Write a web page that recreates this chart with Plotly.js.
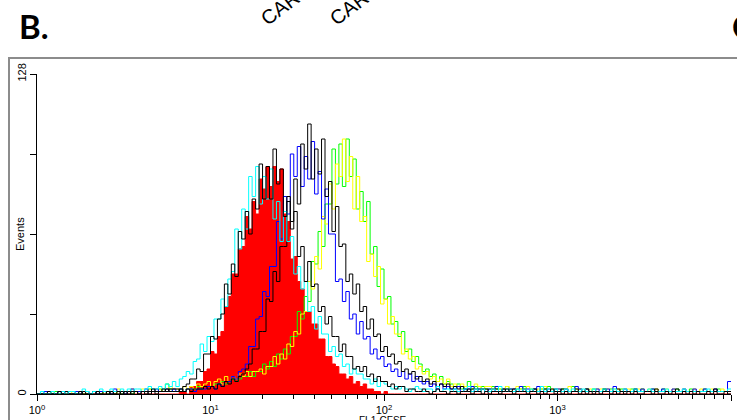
<!DOCTYPE html>
<html><head><meta charset="utf-8">
<script src="https://cdn.plot.ly/plotly-3.0.1.min.js"></script>
<style>html,body{margin:0;padding:0;background:#fff}</style>
</head><body><div id="chart" style="width:737px;height:420px"></div>
<script>
// Channel axis: 50 channels per decade, 4 decades (10^0 .. 10^4)
const binsPerDecade = 50;
const decadeValues = [1, 10, 100, 1000, 10000];
const decadeLabels = ['10<sup>0</sup>', '10<sup>1</sup>', '10<sup>2</sup>', '10<sup>3</sup>', '10<sup>4</sup>'];
const yLabelValues = [0, 128];
const yLabels = ['0', '128'];
const yMinorValues = [32, 64, 96];

// Event counts per channel
const redFilled = [
0,0,0,0,0,0,0,0,0,0, 0,0,0,0,0,0,0,0,0,0, 0,0,0,0,0,0,0,0,0,0, 0,0,0,0,0,0,0,0,0,0,
0,1,1,0,3,3,5,5,9,10, 17,16,23,25,35,39,48,48,58,59, 71,66,77,72,86,82,91,83,91,85, 90,72,69,54,55,45,42,33,33,28,
28,22,22,15,15,12,11,8,8,6, 7,4,5,3,4,2,2,1,1,0, 1,0,0,0,0,0,0,0,0,0, 0,0,0,0,0,0,0,0,0,0,
0,0,0,0,0,0,0,0,0,0, 0,0,0,0,0,0,0,0,0,0, 0,0,0,0,0,0,0,0,0,0, 0,0,0,0,0,0,0,0,0,0,
0,0,0,0,0,0,0,0,0,0, 0,0,0,0,0,0,0,0,0,0, 0,0,0,0,0,0,0,0,0,0, 0,0,0,0,0,0,0,0,0,0];
const cyan = [
0,1,0,0,1,0,0,1,0,1, 1,0,1,2,1,0,1,1,2,1, 1,2,1,1,2,1,2,1,2,2, 1,2,3,2,2,3,2,4,3,5,
3,6,7,9,8,13,14,20,17,23, 21,30,30,38,35,46,49,66,58,74, 66,87,79,91,76,87,78,90,70,77, 61,73,61,63,48,51,42,45,33,35,
26,31,24,24,17,19,15,16,11,12, 8,10,8,8,6,6,4,6,3,5, 4,3,2,3,2,3,2,1,2,3, 2,1,2,2,1,3,1,2,2,1,
2,1,1,2,3,1,2,1,2,1, 1,2,1,3,1,2,1,1,2,1, 2,1,2,1,1,3,1,2,1,2, 1,1,2,1,2,1,1,2,1,1,
2,1,1,2,1,1,2,1,1,2, 1,1,2,1,1,1,2,1,1,1, 1,2,1,1,1,1,2,1,1,1, 1,1,1,2,1,1,1,1,1,2];
const blackA = [
0,0,0,0,0,0,1,0,0,0, 0,0,1,0,0,0,0,1,0,0, 1,0,0,1,0,1,0,1,1,0, 1,1,0,2,1,1,2,1,2,2,
2,1,3,4,6,6,10,9,16,16, 23,22,30,32,44,40,52,47,65,62, 73,64,78,74,92,78,91,78,98,84, 90,71,77,66,73,55,59,45,53,43,
44,33,35,28,31,23,23,17,20,15, 15,10,11,9,11,7,8,5,7,5, 5,3,4,2,3,3,1,2,2,1, 1,2,1,0,1,2,1,1,0,1,
1,0,1,1,2,0,1,1,0,1, 0,1,1,0,1,2,1,0,1,1, 1,0,1,1,0,1,0,1,2,0, 1,0,1,0,1,1,0,1,0,1,
0,1,0,1,1,0,1,0,1,0, 1,0,1,0,0,1,1,0,1,0, 0,1,0,1,0,0,1,0,1,0, 1,0,0,1,0,1,0,0,1,0];
const blue = [
0,0,1,0,0,0,1,0,1,0, 0,1,0,1,1,0,1,0,1,1, 1,0,2,1,1,0,1,2,1,1, 1,2,1,1,2,1,1,2,1,2,
1,2,1,2,2,1,2,2,2,3, 3,2,4,3,5,5,7,6,9,10, 12,19,19,30,31,41,39,51,51,69, 62,79,72,96,87,99,83,95,86,101,
80,89,70,82,64,64,45,46,37,41, 30,32,24,29,22,23,16,18,14,15, 11,12,9,10,7,9,6,8,5,7, 5,4,5,3,4,2,4,2,3,2,
2,3,1,2,2,3,1,2,2,1, 2,1,3,1,2,1,2,2,1,3, 1,2,1,2,3,1,1,2,1,2, 2,1,2,1,1,3,2,1,2,1,
1,2,1,1,2,1,3,1,1,2, 1,1,2,1,2,1,1,2,1,1, 2,1,1,2,1,1,2,1,1,2, 1,1,2,1,1,2,1,1,1,5];
const blackB = [
0,0,0,1,0,0,0,0,1,0, 0,0,0,1,0,0,1,0,0,1, 0,1,0,0,1,0,1,0,1,0, 1,0,1,1,0,1,1,2,1,1,
1,2,1,2,1,2,2,2,3,2, 3,2,4,3,5,4,6,5,7,8, 10,12,18,18,25,25,38,37,49,45, 59,59,79,69,86,76,100,90,108,86,
98,88,102,79,85,65,75,59,60,45, 48,40,44,33,35,26,30,23,24,17, 19,15,16,12,13,9,10,8,9,6, 7,5,6,4,5,3,4,3,4,2,
3,2,3,2,1,2,2,1,2,2, 1,2,2,1,2,1,1,2,1,1, 2,1,1,2,1,1,2,1,1,1, 1,2,1,1,1,2,1,1,2,1,
1,1,1,2,1,1,1,2,1,1, 1,1,2,1,1,1,1,1,2,1, 1,1,1,1,2,1,1,1,1,1, 1,1,1,1,1,2,1,1,1,1];
const yellow = [
0,0,0,0,1,0,0,0,0,1, 0,1,0,0,1,0,1,1,0,1, 1,1,0,2,1,1,1,2,1,1, 2,1,2,1,2,2,1,2,3,2,
2,1,3,2,3,2,4,3,4,5, 3,5,6,4,7,5,7,6,8,7, 9,7,9,9,10,8,11,11,15,12, 16,14,20,19,25,24,32,33,45,42,
55,50,71,68,84,74,92,87,102,85, 95,74,87,69,71,53,56,47,51,36, 38,28,31,24,24,16,18,14,15,10, 11,8,9,6,7,5,6,4,6,3,
4,3,4,3,3,2,4,3,2,3, 3,2,3,2,2,3,1,2,3,2, 2,3,2,1,2,2,3,1,2,2, 2,1,2,3,1,2,2,1,2,2,
1,2,2,1,2,1,2,2,1,2, 2,1,1,2,2,1,2,1,2,1, 1,2,1,2,1,1,2,1,1,2, 1,2,1,1,2,1,1,2,1,1];
const green = [
0,0,0,0,0,1,0,0,0,0, 0,0,1,0,0,0,1,0,0,1, 0,1,0,1,0,1,1,0,1,1, 1,1,2,1,1,2,1,4,2,1,
1,2,1,2,2,2,3,2,3,3, 3,4,4,5,4,5,6,5,6,7, 7,9,7,9,9,12,10,13,11,16, 14,18,16,23,23,33,30,39,37,53,
52,65,59,76,76,98,84,100,83,102, 87,94,74,81,69,77,56,59,43,50, 38,39,28,29,23,25,17,18,13,15, 12,9,10,7,8,5,7,4,5,4,
3,4,2,3,5,2,3,2,3,2, 2,3,2,2,1,3,2,1,2,2, 3,1,2,2,1,2,2,3,1,2, 1,2,2,1,3,1,2,1,2,1,
2,1,1,2,1,2,1,1,2,1, 1,2,1,1,2,1,1,2,1,1, 2,1,1,1,2,1,1,1,2,1, 1,1,2,1,1,1,2,1,1,1];

// channel left edges on the log scale, plus the final edge at 10^4
const channelX = redFilled.map((_, i) => Math.pow(10, i / binsPerDecade));
channelX.push(Math.pow(10, redFilled.length / binsPerDecade));

const minorTicks = [];
for (let d = 0; d < 4; d++) for (let k = 2; k <= 9; k++) minorTicks.push(k * Math.pow(10, d));

function histTrace(name, counts, color, filled) {
  return {
    type: 'scatter', mode: 'lines', name: name,
    x: channelX, y: counts.concat([counts[counts.length - 1]]),
    line: {color: color, width: 1, shape: 'hv'},
    fill: filled ? 'tozeroy' : 'none', fillcolor: color,
    hoverinfo: 'skip'
  };
}

const data = [
  histTrace('red', redFilled, '#ff0000', true),
  histTrace('green', green, '#00ff00', false),
  histTrace('yellow', yellow, '#ffff00', false),
  histTrace('blue', blue, '#0000ff', false),
  histTrace('black 2', blackB, '#000000', false),
  histTrace('cyan', cyan, '#00ffff', false),
  histTrace('black 1', blackA, '#000000', false)
];

function px2x(px) { return (px - 37) / 694; }
function py2y(py) { return (394 - py) / 320; }

const layout = {
  width: 737, height: 420,
  margin: {l: 37, r: 6, t: 74, b: 26, pad: 0},
  paper_bgcolor: '#ffffff', plot_bgcolor: '#ffffff',
  showlegend: false,
  font: {family: 'Liberation Sans, Arial, sans-serif', color: '#000000', size: 11},
  xaxis: {
    type: 'log', range: [0, 4], tickmode: 'array', tickvals: decadeValues, ticktext: decadeLabels,
    ticks: 'outside', ticklen: 6, tickcolor: '#000', tickwidth: 1,
    showline: true, linecolor: '#000', linewidth: 1, showgrid: false, zeroline: false,
    tickfont: {size: 11},
    minor: {tickmode: 'array', tickvals: minorTicks, ticks: 'outside', ticklen: 4, tickcolor: '#000', showgrid: false},
    automargin: false, fixedrange: true
  },
  yaxis: {
    range: [0, 128], tickmode: 'array', tickvals: yLabelValues, ticktext: yLabels, tickangle: -90,
    ticks: 'outside', ticklen: 6, tickcolor: '#000', tickwidth: 1,
    showline: true, linecolor: '#000', linewidth: 1, showgrid: false, zeroline: false,
    tickfont: {size: 11},
    minor: {tickmode: 'array', tickvals: yMinorValues, ticks: 'outside', ticklen: 6, tickcolor: '#000', showgrid: false},
    automargin: false, fixedrange: true
  },
  shapes: [{
    type: 'rect', xref: 'paper', yref: 'paper', layer: 'below',
    x0: px2x(9), x1: 1.2, y0: -0.3, y1: py2y(58),
    line: {color: '#8c8c8c', width: 2}, fillcolor: 'rgba(0,0,0,0)'
  }],
  annotations: [
    {text: 'Events', xref: 'paper', yref: 'paper', x: px2x(20), y: py2y(234), xanchor: 'center', yanchor: 'middle',
     textangle: -90, showarrow: false, font: {size: 11, color: '#000'}},
    {text: 'FL1-CFSE', xref: 'paper', yref: 'paper', x: px2x(383), y: py2y(420), xanchor: 'center', yanchor: 'middle',
     showarrow: false, font: {size: 10, color: '#000'}},
    {text: '<b>B.</b>', xref: 'paper', yref: 'paper', x: px2x(17), y: py2y(26), xanchor: 'left', yanchor: 'middle',
     showarrow: false, font: {family: 'Lato, sans-serif', size: 33, color: '#000'}},
    {text: '<b>C.</b>', xref: 'paper', yref: 'paper', x: px2x(730), y: py2y(26), xanchor: 'left', yanchor: 'middle',
     showarrow: false, font: {family: 'Lato, sans-serif', size: 33, color: '#000'}},
    {text: 'CAR', xref: 'paper', yref: 'paper', x: px2x(280), y: py2y(8), xanchor: 'center', yanchor: 'middle', textangle: -37,
     showarrow: false, font: {family: 'Liberation Sans, Arial, sans-serif', size: 20, color: '#000'}},
    {text: 'CAR', xref: 'paper', yref: 'paper', x: px2x(349), y: py2y(8), xanchor: 'center', yanchor: 'middle', textangle: -37,
     showarrow: false, font: {family: 'Liberation Sans, Arial, sans-serif', size: 20, color: '#000'}}
  ]
};

Plotly.newPlot('chart', data, layout, {displayModeBar: false, staticPlot: true});
</script>
</body></html>
